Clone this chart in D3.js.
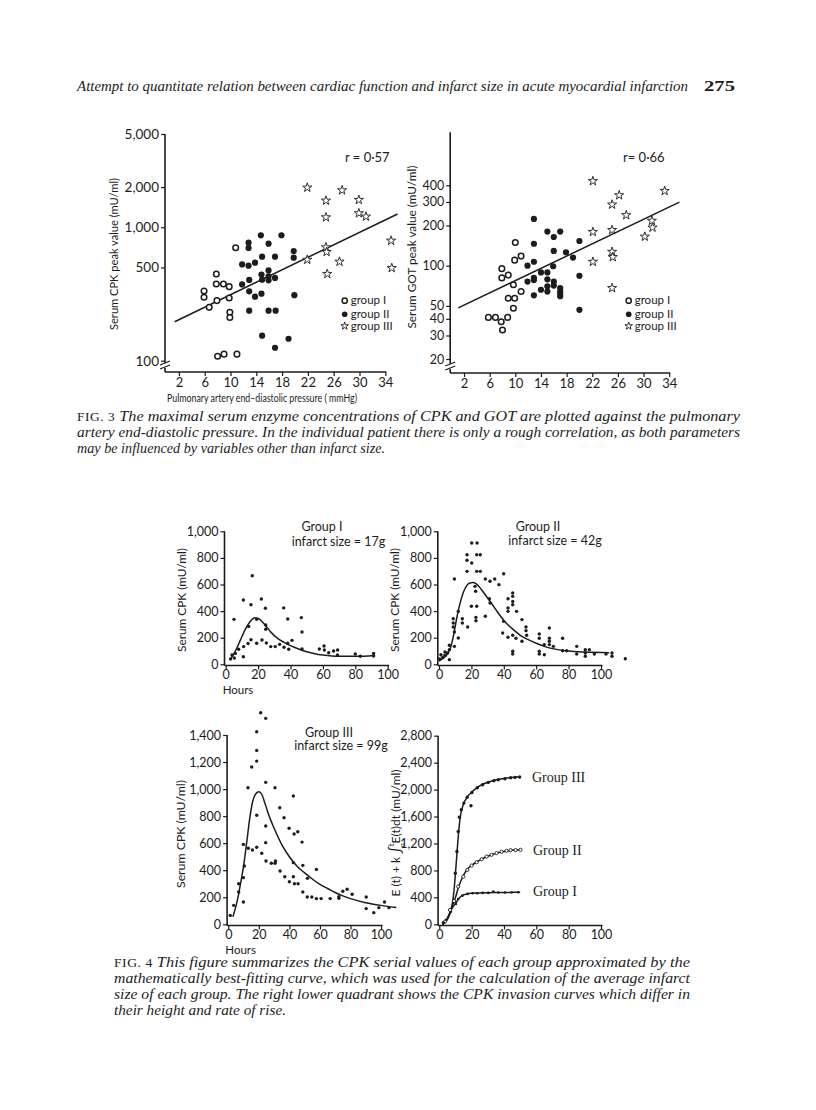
<!DOCTYPE html>
<html><head><meta charset="utf-8">
<script src="https://cdn.jsdelivr.net/npm/d3@7"></script>
<style>body{margin:0;background:#fff}svg{display:block}</style>
</head><body>
<svg id="page" width="816" height="1110"></svg>
<script>
// ---------------- DATA ----------------
// Fig 3 left: CPK peak (mU/ml) vs PAEDP (mmHg)
const cpkGroupI = [[10.8,703],[7.8,447],[7.8,376],[8.9,376],[9.8,359],[5.9,333],[5.9,299],[9.8,295],[7.9,282],[6.7,251],[9.9,231],[9.9,211],[8.0,108],[9.0,112],[11.0,112]];
const cpkGroupII = [[14.7,871],[17.9,871],[12.8,767],[15.9,753],[12.8,700],[19.8,664],[14.9,602],[16.9,602],[19.8,592],[13.8,543],[11.8,527],[12.8,515],[15.9,475],[14.8,442],[15.9,428],[16.9,417],[14.9,405],[15.9,400],[12.9,403],[11.8,373],[12.9,331],[14.8,318],[13.8,302],[19.9,310],[12.9,237],[15.9,237],[17.0,237],[14.9,154],[19.0,146],[16.9,125]];
const cpkGroupIII = [[21.9,1982],[27.3,1893],[24.8,1584],[29.9,1604],[29.9,1274],[31.0,1203],[24.8,1188],[34.9,794],[24.8,708],[24.9,653],[21.9,571],[26.9,552],[35.0,495],[25.0,447]];
const cpkRegression = [[1.35,196],[35.9,1258]];
const cpkYTicks = [100,500,1000,2000,5000];
const cpkR = "r = 0·57";

// Fig 3 right: GOT peak (mU/ml) vs PAEDP
const gotGroupI = [[10.0,149],[9.9,110],[10.9,118],[7.9,95],[7.9,81],[8.9,85],[9.7,72],[10.9,64],[8.9,57],[9.9,57],[9.7,48],[5.8,41],[6.9,41],[7.8,38],[8.8,41],[8.0,33]];
const gotGroupII = [[12.9,224],[15.0,180],[17.0,180],[16.0,164],[12.9,146],[20.0,153],[16.0,129],[17.9,126],[19.0,115],[12.9,107],[11.9,100],[15.9,99],[14.0,89],[15.0,89],[20.0,84],[12.9,81],[12.9,78],[15.0,79],[11.9,76],[16.0,76],[16.0,71],[15.0,70],[17.0,68],[14.0,66],[15.0,64],[17.0,64],[17.0,61.5],[17.0,59],[12.9,60],[20.0,46.7]];
const gotGroupIII = [[22.1,430],[33.3,363],[26.2,337],[25.1,287],[27.3,239],[31.3,217],[31.4,193],[22.1,179],[25.1,185],[30.2,165],[25.1,127],[25.2,116],[22.1,107],[25.1,68]];
const gotRegression = [[1.1,48.3],[35.6,299]];
const gotYTicks = [20,30,40,50,100,200,300,400];
const gotR = "r= 0·66";

const paedpTicks = [2,6,10,14,18,22,26,30,34];
const legendLabels = ["group I","group II","group III"];

// Fig 4: serial CPK values (hours, mU/ml)
const serialGroupI = [[16.4,666],[10.9,483],[22.0,491],[15.6,448],[24.5,421],[35.8,424],[5.1,338],[19.1,338],[38.3,341],[46.7,351],[24.7,296],[24.7,263],[47.1,243],[14.2,285],[15.6,185],[19.1,158],[22.4,183],[25.1,160],[27.8,133],[30.6,133],[33.3,150],[36.0,128],[38.9,113],[38.3,158],[40.9,180],[47.1,115],[11.1,133],[13.8,156],[8.0,113],[10.9,57],[3.9,70],[5.9,82],[5.3,47],[3.0,40],[57.8,115],[60.7,138],[60.9,108],[63.6,87],[66.6,100],[69.1,108],[69.0,70],[80.0,78],[83.1,60],[91.3,82],[91.3,62]];
const fitGroupI = [[3,40],[6,100],[9,180],[12,260],[15,320],[18,350],[20,345],[24,300],[28,240],[32,195],[36,165],[40,140],[45,115],[50,95],[55,80],[60,70],[70,60],[80,60],[92,67]];

const serialGroupII = [[20.2,912],[23.5,912],[17.3,824],[23.3,824],[25.5,824],[17.3,782],[20.2,762],[17.3,699],[23.3,699],[25.5,699],[9.5,641],[28.6,641],[31.5,624],[34.4,641],[37.0,599],[39.9,681],[22.2,586],[22.6,549],[31.1,493],[31.5,461],[42.6,493],[45.5,536],[45.5,511],[45.5,473],[45.5,448],[42.6,423],[42.6,398],[20.0,436],[23.3,436],[22.8,353],[22.8,328],[28.6,361],[47.9,398],[51.2,336],[53.7,280],[53.7,253],[39.9,323],[39.3,235],[42.6,203],[45.5,218],[47.5,196],[45.5,98],[45.5,77],[51.2,173],[54.1,218],[61.9,228],[61.9,196],[68.1,273],[68.1,196],[68.1,173],[68.1,148],[70.6,135],[65.0,148],[61.9,98],[61.9,77],[65.0,72],[76.3,196],[76.3,102],[78.8,102],[85.0,135],[85.0,77],[90.3,110],[90.3,85],[90.3,60],[92.8,110],[95.9,77],[103.1,77],[106.8,85],[106.8,60],[115,42],[8.8,343],[8.8,311],[8.8,280],[9.5,243],[11.9,398],[11.9,198],[14.4,343],[14.4,311],[17.7,280],[9.5,135],[6.4,143],[6.4,110],[5.3,85],[3.7,92],[3.7,68],[1.2,72],[2.3,52],[6.4,35],[0.4,40]];
const fitGroupII = [[0,25],[4,60],[7,120],[9,220],[11,350],[13,460],[15,540],[17,590],[19,612],[21,615],[23,605],[26,565],[29,515],[32,465],[36,395],[40,330],[45,270],[50,220],[55,185],[60,158],[65,135],[70,118],[80,100],[90,92],[105,87]];

const serialGroupIII = [[21.2,1565],[24.5,1523],[18.6,1424],[18.6,1286],[18.6,1207],[15.3,1163],[12.9,1010],[24.5,1050],[30.6,1010],[42.6,949],[33.7,862],[18.6,806],[36.5,788],[24.5,727],[39.8,710],[43.1,668],[45.5,685],[48.3,608],[9.9,591],[13.1,562],[15.8,549],[18.6,570],[24.5,604],[21.9,525],[24.7,468],[28.2,451],[30.6,451],[30.9,468],[33.9,394],[37.0,352],[40.0,315],[42.6,352],[42.6,456],[43.3,300],[45.7,300],[48.8,436],[48.8,239],[51.8,340],[51.7,202],[54.7,202],[57.7,406],[57.7,190],[60.8,190],[66.7,190],[72.4,192],[72.4,205],[75.0,244],[77.8,259],[81.1,222],[90.3,202],[90.3,116],[95.3,86],[98.6,123],[102.3,165],[105.2,123],[3.5,140],[1.3,66],[6.8,239],[6.8,300],[9.9,345],[10.5,431],[9.9,165]];
const fitGroupIII = [[3,55],[6,180],[8,300],[10,430],[12,600],[14,780],[16,910],[18,965],[20,980],[22,960],[24,895],[26,825],[30,710],[35,590],[40,500],[45,430],[50,380],[55,335],[60,295],[65,265],[70,235],[75,210],[80,190],[90,160],[100,140],[110,125]];

// Fig 4 lower right: CPK invasion curves
const invGroupI = [[4.1,64],[7.2,188],[10.3,302],[11.7,376],[14.4,426],[17.5,451],[20.6,461],[23.5,461],[26.8,466],[30.3,466],[33.4,486],[36.5,471],[40.6,471],[44.7,471],[48.8,476]];
const invGroupII = [[3.5,39],[6.6,213],[9.1,346],[11.7,560],[14.8,708],[17.3,807],[20.0,872],[23.1,921],[26.2,966],[29.3,1006],[32.3,1031],[35.4,1056],[38.5,1076],[41.6,1091],[44.1,1101],[47.2,1101],[50.2,1106]];
const invGroupIII = [[2.5,24],[9.9,758],[10.9,1080],[11.7,1377],[12.4,1591],[13.6,1700],[15.2,1799],[17.3,1888],[19.6,1759],[20.2,1957],[23.5,2027],[26.8,2072],[30.3,2107],[33.8,2132],[36.5,2146],[40.6,2161],[44.1,2176],[46.8,2181],[49.7,2186]];
const invFitI = [[2,0],[4,50],[6,140],[8,240],[10,310],[12,380],[14,425],[17,450],[20,460],[25,465],[30,470],[35,472],[40,473],[45,474],[50,476]];
const invFitII = [[2,0],[4,40],[6,140],[8,270],[10,400],[12,560],[14,680],[16,770],[18,835],[20,875],[23,925],[26,965],[30,1010],[35,1055],[40,1080],[45,1098],[50,1105]];
const invFitIII = [[2,0],[4,40],[6,120],[8,300],[9,480],[10,760],[11,1080],[12,1380],[13,1600],[14,1710],[15,1790],[17,1880],[20,1960],[24,2040],[28,2090],[32,2125],[36,2150],[40,2165],[45,2180],[50,2190]];
const hourTicks = [0,20,40,60,80,100];

// ---------------- DRAWING ----------------
const svg = d3.select("#page");
const ink = "#1c1c1c";
const SANS = "Lato, 'Open Sans', 'DejaVu Sans', sans-serif";
const SERIF = "'Liberation Serif', 'DejaVu Serif', serif";
svg.append("rect").attr("width",816).attr("height",1110).attr("fill","#fff");

function txt(x,y,s,o={}) {
  const t = svg.append("text").attr("x",x).attr("y",y).text(s)
    .attr("font-family",o.family||SANS).attr("font-size",o.size||12)
    .attr("fill",ink).attr("text-anchor",o.anchor||"start");
  if (o.italic) t.attr("font-style","italic");
  if (o.weight) t.attr("font-weight",o.weight);
  if (o.len) t.attr("textLength",o.len).attr("lengthAdjust","spacingAndGlyphs");
  if (o.rotate) t.attr("transform",`rotate(-90,${x},${y})`);
  return t;
}

// Header
txt(77,91,"Attempt to quantitate relation between cardiac function and infarct size in acute myocardial infarction",{family:SERIF,italic:true,size:15,len:611});
txt(704,91,"275",{family:SERIF,weight:"bold",size:15,len:31});

function styleAxis(g, fs) {
  g.select(".domain").remove();
  g.selectAll(".tick line").attr("stroke",ink).attr("stroke-width",1.2);
  g.selectAll(".tick text").attr("fill",ink).attr("font-family",SANS).attr("font-size",fs);
}

// ---- Fig 3 scatter panels ----
function scatterPanel(cfg) {
  const x = d3.scaleLinear().domain([0,34]).range(cfg.xr);
  const y = d3.scaleLog().domain(cfg.yd).range(cfg.yr);
  const g = svg.append("g");
  const x0 = x(0) - 1, yb = cfg.axisY;
  g.append("line").attr("x1",x0).attr("x2",x0).attr("y1",y(cfg.yTop)).attr("y2",yb-9).attr("stroke",ink).attr("stroke-width",1.6);
  g.append("line").attr("x1",x0).attr("x2",x0).attr("y1",yb-4).attr("y2",yb).attr("stroke",ink).attr("stroke-width",1.6);
  [-9,-5].forEach(d=>{
    g.append("line").attr("x1",x0-5).attr("y1",yb+d+2).attr("x2",x0+5).attr("y2",yb+d-2).attr("stroke",ink).attr("stroke-width",1.2);
  });
  g.append("line").attr("x1",x0).attr("x2",x(34)+1).attr("y1",yb).attr("y2",yb).attr("stroke",ink).attr("stroke-width",1.6);
  const ya = g.append("g").attr("transform",`translate(${x0},0)`)
    .call(d3.axisLeft(y).tickValues(cfg.yTicks).tickFormat(d3.format(",")).tickSize(4).tickPadding(2));
  styleAxis(ya, cfg.yFont);
  const xa = g.append("g").attr("transform",`translate(0,${yb})`)
    .call(d3.axisBottom(x).tickValues(paedpTicks).tickSize(4).tickPadding(2));
  styleAxis(xa, 13);
  g.append("path").datum(cfg.reg).attr("d",d3.line().x(d=>x(d[0])).y(d=>y(d[1])))
    .attr("stroke",ink).attr("stroke-width",1.5).attr("fill","none");
  g.selectAll(".g1").data(cfg.g1).join("circle").attr("cx",d=>x(d[0])).attr("cy",d=>y(d[1])).attr("r",2.8)
    .attr("fill","#fff").attr("stroke",ink).attr("stroke-width",1.5);
  g.selectAll(".g2").data(cfg.g2).join("circle").attr("cx",d=>x(d[0])).attr("cy",d=>y(d[1])).attr("r",3.1).attr("fill",ink);
  const star = d3.symbol(d3.symbolStar,26);
  g.selectAll(".g3").data(cfg.g3).join("path").attr("d",star).attr("transform",d=>`translate(${x(d[0])},${y(d[1])})`)
    .attr("fill","#fff").attr("stroke",ink).attr("stroke-width",0.9);
  txt(cfg.rX,162,cfg.r,{size:13});
  const lx = cfg.legX, ly = [300.7,314.3,326];
  g.append("circle").attr("cx",lx).attr("cy",ly[0]).attr("r",2.6).attr("fill","#fff").attr("stroke",ink).attr("stroke-width",1.5);
  g.append("circle").attr("cx",lx).attr("cy",ly[1]).attr("r",2.8).attr("fill",ink);
  g.append("path").attr("d",d3.symbol(d3.symbolStar,18)).attr("transform",`translate(${lx},${ly[2]})`).attr("fill","#fff").attr("stroke",ink).attr("stroke-width",0.9);
  legendLabels.forEach((l,i)=>txt(lx+6,ly[i]+3.5,l,{size:11.5}));
  txt(cfg.yLabX,cfg.yLabY,cfg.yLab,{size:12,anchor:"middle",rotate:true,len:cfg.yLabLen});
}

scatterPanel({xr:[166,385.3], yd:[100,5000], yr:[360.7,134], yTop:5000, axisY:372, yFont:13.5,
  yTicks:cpkYTicks, reg:cpkRegression, g1:cpkGroupI, g2:cpkGroupII, g3:cpkGroupIII,
  r:cpkR, rX:345, legX:344.7, yLab:"Serum CPK peak value (mU/ml)", yLabX:118, yLabY:254, yLabLen:152});
scatterPanel({xr:[451.2,669.2], yd:[20,400], yr:[359,185.3], yTop:1000, axisY:373, yFont:12.5,
  yTicks:gotYTicks, reg:gotRegression, g1:gotGroupI, g2:gotGroupII, g3:gotGroupIII,
  r:gotR, rX:623, legX:628.7, yLab:"Serum GOT peak value (mU/ml)", yLabX:416, yLabY:247, yLabLen:163});

txt(262,402,"Pulmonary artery end–diastolic pressure  ( mmHg)",{size:12,anchor:"middle",len:190});

// captions
function caption(x,y,lead,body,len) {
  const t = svg.append("text").attr("x",x).attr("y",y).attr("font-family",SERIF).attr("font-size",14.5).attr("fill",ink);
  if (lead) t.append("tspan").text(lead).attr("font-size",12).attr("letter-spacing",0.5);
  t.append("tspan").text(body).attr("font-style","italic");
  if (len) t.attr("textLength",len).attr("lengthAdjust","spacingAndGlyphs");
}
caption(77,421,"FIG. 3  ","The maximal serum enzyme concentrations of CPK and GOT are plotted against the pulmonary",663);
caption(77,437,null,"artery end-diastolic pressure. In the individual patient there is only a rough correlation, as both parameters",663);
caption(77,453,null,"may be influenced by variables other than infarct size.",308);

// ---- Fig 4 panels ----
function serialPanel(cfg) {
  const x = d3.scaleLinear().domain([0,100]).range(cfg.xr);
  const y = d3.scaleLinear().domain([0,cfg.ymax]).range(cfg.yr);
  const g = svg.append("g");
  const x0 = x(0) - 1.2, yb = y(0) + 1.2;
  g.append("line").attr("x1",x0).attr("x2",x0).attr("y1",y(cfg.ymax)).attr("y2",yb).attr("stroke",ink).attr("stroke-width",1.6);
  g.append("line").attr("x1",x0).attr("x2",x(100)+1.5).attr("y1",yb).attr("y2",yb).attr("stroke",ink).attr("stroke-width",1.6);
  const ya = g.append("g").attr("transform",`translate(${x0},0)`)
    .call(d3.axisLeft(y).tickValues(cfg.yTicks).tickFormat(d3.format(",")).tickSize(4).tickPadding(2));
  styleAxis(ya, 12.5);
  const xa = g.append("g").attr("transform",`translate(0,${yb})`)
    .call(d3.axisBottom(x).tickValues(hourTicks).tickSize(4).tickPadding(1));
  styleAxis(xa, 12.5);
  cfg.curves.forEach(c=>{
    g.append("path").datum(c).attr("d",d3.line().x(d=>x(d[0])).y(d=>y(d[1])).curve(d3.curveMonotoneX))
      .attr("stroke",ink).attr("stroke-width",1.5).attr("fill","none");
  });
  cfg.dots.forEach(ds=>{
    g.selectAll(null).data(ds.data).join("circle").attr("cx",d=>x(d[0])).attr("cy",d=>y(d[1])).attr("r",ds.r||1.7)
      .attr("fill",ds.open?"#fff":ink).attr("stroke",ds.open?ink:"none").attr("stroke-width",0.9);
  });
  if (cfg.hours) txt(x(0)-3,cfg.hoursY,"Hours",{size:11.5});
  return {x,y};
}

const yT1000 = [0,200,400,600,800,1000];
serialPanel({xr:[225.7,387.7], yr:[664.3,531.3], ymax:1000, yTicks:yT1000,
  curves:[fitGroupI], dots:[{data:serialGroupI}], hours:true, hoursY:694});
txt(322,531,"Group I",{size:12.5,anchor:"middle"});
txt(338.5,546,"infarct size = 17g",{size:12.5,anchor:"middle"});
txt(186,600,"Serum CPK (mU/ml)",{size:12,anchor:"middle",rotate:true,len:104});

serialPanel({xr:[439,601], yr:[664.3,531.3], ymax:1000, yTicks:yT1000,
  curves:[fitGroupII], dots:[{data:serialGroupII}]});
txt(538,531,"Group II",{size:12.5,anchor:"middle"});
txt(555,545,"infarct size = 42g",{size:12.5,anchor:"middle"});
txt(399,600,"Serum CPK (mU/ml)",{size:12,anchor:"middle",rotate:true,len:104});

serialPanel({xr:[228.3,381], yr:[924.3,735], ymax:1400, yTicks:[0,200,400,600,800,1000,1200,1400],
  curves:[fitGroupIII], dots:[{data:serialGroupIII}], hours:true, hoursY:954});
txt(329,737,"Group III",{size:12.5,anchor:"middle"});
txt(341,750,"infarct size = 99g",{size:12.5,anchor:"middle"});
txt(185,834,"Serum CPK (mU/ml)",{size:12,anchor:"middle",rotate:true,len:108});

serialPanel({xr:[439.3,601], yr:[924.3,735.7], ymax:2800, yTicks:[0,400,800,1200,1600,2000,2400,2800],
  curves:[invFitI,invFitII,invFitIII],
  dots:[{data:invGroupI,r:1.3},{data:invGroupII,r:1.6,open:true},{data:invGroupIII,r:1.7}]});
txt(532,782,"Group III",{family:SERIF,size:14});
txt(533,855,"Group II",{family:SERIF,size:14});
txt(533,896,"Group I",{family:SERIF,size:14});
(function(){
  const x=400, y=833;
  const t = svg.append("text").attr("x",x).attr("y",y).attr("font-family",SANS).attr("font-size",12)
    .attr("fill",ink).attr("text-anchor","middle").attr("transform",`rotate(-90,${x},${y})`);
  t.append("tspan").text("E (t) + k ");
  t.append("tspan").text("∫").attr("font-size",15);
  t.append("tspan").text("t").attr("font-size",8).attr("dy",-6);
  t.append("tspan").text("o").attr("font-size",7).attr("dx",-4).attr("dy",11);
  t.append("tspan").text("E(t)dt (mU/ml)").attr("dy",-5);
})();

caption(114,967,"FIG. 4  ","This figure summarizes the CPK serial values of each group approximated by the",576);
caption(114,983,null,"mathematically best-fitting curve, which was used for the calculation of the average infarct",576);
caption(114,999,null,"size of each group. The right lower quadrant shows the CPK invasion curves which differ in",576);
caption(114,1015,null,"their height and rate of rise.",172);
</script>
</body></html>
